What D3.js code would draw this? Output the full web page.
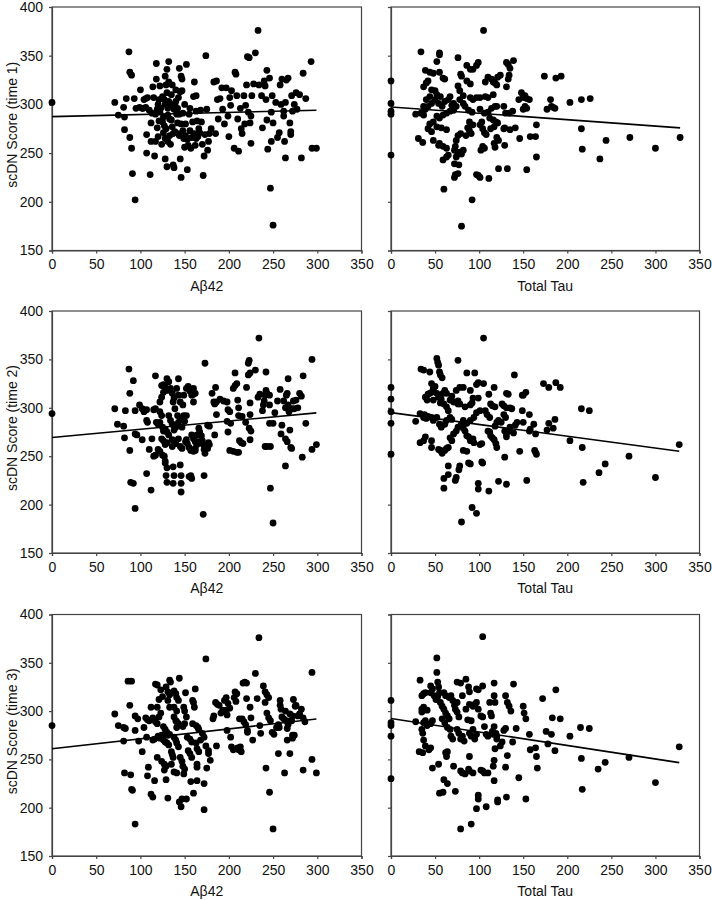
<!DOCTYPE html>
<html><head><meta charset="utf-8">
<script src="https://cdn.jsdelivr.net/npm/d3@7"></script>
<style>body{margin:0;background:#fff}svg{display:block}</style>
</head><body>
<script>
const xTicks=[0,50,100,150,200,250,300,350];
const yTicks=[150,200,250,300,350,400];
const xTitles=["Aβ42","Total Tau"];
const yTitles=["scDN Score (time 1)","scDN Score (time 2)","scDN Score (time 3)"];

const abetaT1=[[0,302],[71,302],[75,289],[81,297],[84,306],[82,287],[82,274],[87,354],[88,333],[90,330],[88,266],[90,255],[91,229],[94,202],[93,306],[95,296],[100,315],[99,297],[103,296],[106,306],[108,307],[107,269],[107,250],[111,228],[112,262],[112,281],[113,291],[114,318],[115,307],[116,247],[117,262],[118,342],[118,326],[119,295],[120,267],[121,305],[122,319],[122,292],[124,259],[125,308],[126,287],[127,278],[128,329],[128,300],[128,244],[129,275],[130,336],[130,312],[130,236],[131,289],[132,344],[132,323],[132,303],[133,268],[134,259],[135,284],[135,310],[136,320],[137,238],[138,235],[138,295],[139,272],[140,303],[141,290],[142,281],[143,307],[144,337],[144,268],[145,244],[145,313],[146,329],[146,225],[147,326],[147,314],[148,291],[148,273],[150,300],[150,256],[151,280],[152,341],[153,264],[153,233],[155,290],[156,273],[157,255],[158,266],[160,308],[161,323],[162,258],[163,293],[164,283],[165,267],[166,275],[168,294],[170,259],[172,247],[171,227],[173,269],[174,350],[175,295],[176,253],[178,270],[180,275],[120,300],[123,296],[125,282],[127,305],[129,320],[131,296],[133,285],[134,300],[136,277],[137,270],[139,300],[140,315],[142,296],[143,270],[144,290],[146,280],[149,265],[151,268],[154,258],[156,296],[159,282],[161,270],[163,265],[167,271],[169,282],[110,294],[104,305],[117,290],[119,276],[121,283],[126,271],[128,265],[131,262],[102,296],[106,297],[177,262],[163,309],
[183,323],[186,324],[185,270],[187,305],[188,285],[190,306],[192,317],[193,295],[195,280],[197,317],[199,288],[200,267],[201,307],[202,299],[203,314],[206,255],[207,333],[208,331],[209,309],[210,285],[211,252],[213,296],[214,275],[215,270],[217,309],[218,280],[219,299],[220,320],[221,349],[223,348],[222,292],[224,281],[225,288],[225,260],[226,309],[228,321],[230,353],[233,376],[234,320],[237,309],[238,276],[240,324],[241,319],[242,305],[243,284],[243,335],[244,254],[246,327],[247,214],[248,262],[248,292],[249,309],[250,281],[250,176],
[253,302],[255,266],[257,271],[258,320],[259,300],[260,326],[262,293],[262,288],[263,262],[264,245],[264,302],[265,325],[267,327],[269,281],[270,272],[270,269],[271,309],[272,293],[274,300],[276,312],[277,295],[280,310],[282,245],[284,332],[287,306],[293,344],[294,255],[299,255]];

const tauT1=[[0,324],[0,301],[0,293],[0,290],[0,248],[28,290],[34,354],[31,265],[36,261],[37,318],[40,322],[42,324],[39,335],[44,333],[48,332],[52,344],[55,353],[55,351],[55,333],[59,327],[61,326],[76,348],[46,315],[50,314],[52,310],[56,308],[44,308],[40,305],[37,298],[39,295],[34,291],[37,289],[42,298],[46,301],[50,305],[54,301],[58,298],[61,303],[65,305],[67,308],[69,299],[71,301],[52,288],[55,286],[59,289],[63,291],[67,293],[71,294],[48,282],[44,280],[42,275],[52,277],[57,276],[63,274],[46,272],[48,263],[55,260],[54,258],[59,257],[63,255],[65,248],[59,243],[63,246],[72,239],[74,246],[76,250],[76,229],[73,228],[72,225],[60,213],[78,251],[80,249],[82,253],[86,340],[90,336],[93,336],[97,340],[105,376],[99,343],[86,324],[90,321],[79,331],[80,329],[76,319],[78,314],[82,309],[90,307],[93,305],[97,307],[101,307],[107,308],[110,307],[78,305],[82,301],[74,298],[84,298],[88,294],[92,292],[101,295],[106,291],[110,292],[112,286],[118,298],[114,296],[120,298],[107,323],[110,328],[114,326],[116,323],[120,320],[118,322],[116,310],[121,328],[124,330],[131,318],[133,326],[134,330],[135,337],[139,345],[131,343],[133,341],[128,298],[130,291],[134,291],[138,293],[116,284],[119,282],[121,281],[117,277],[113,275],[103,282],[101,279],[104,275],[106,271],[108,269],[89,282],[93,279],[87,276],[89,273],[91,270],[85,268],[79,270],[76,268],[74,263],[73,257],[72,253],[76,249],[104,257],[102,253],[106,255],[120,266],[122,263],[117,260],[118,256],[128,275],[129,276],[135,274],[129,258],[132,234],[122,234],[111,224],[99,227],[101,225],[97,228],[92,202],[80,175],[77,238],[145,305],[150,307],[148,312],[152,309],[154,306],[157,305],[150,295],[154,296],[152,298],[165,279],[158,267],[164,267],[146,265],[141,276],[165,246],[154,233],[174,329],[177,295],[182,298],[181,305],[184,297],[186,296],[187,327],[193,329],[203,302],[216,305],[226,306],[216,275],[217,254],[244,263],[237,244],[271,266],[300,255],[328,266]];

const abetaT2=[[0,294],[71,299],[74,283],[81,281],[82,269],[83,297],[88,315],[87,340],[92,328],[88,256],[89,223],[92,222],[94,196],[94,297],[94,273],[96,272],[99,303],[102,299],[102,267],[104,296],[107,298],[107,287],[108,285],[110,257],[107,232],[112,215],[113,268],[115,250],[117,251],[115,298],[117,299],[117,333],[118,285],[120,283],[122,255],[120,257],[122,296],[124,292],[122,306],[124,311],[126,316],[124,323],[126,324],[128,321],[130,318],[122,285],[125,280],[128,278],[130,275],[126,276],[124,268],[126,266],[128,262],[130,264],[125,251],[127,250],[128,245],[128,243],[130,238],[129,230],[130,223],[130,330],[132,327],[134,320],[136,315],[138,310],[137,306],[139,299],[132,292],[134,287],[136,283],[138,282],[140,280],[138,277],[132,272],[136,267],[138,266],[140,263],[136,260],[137,239],[138,230],[137,222],[141,320],[143,313],[145,306],[143,330],[142,292],[145,289],[143,285],[147,280],[143,268],[145,260],[147,258],[145,241],[146,230],[146,222],[146,213],[148,303],[149,313],[152,320],[149,292],[150,286],[152,292],[151,265],[153,263],[152,267],[155,259],[157,256],[155,229],[157,230],[154,322],[156,317],[158,313],[160,314],[160,306],[158,272],[160,268],[162,265],[164,262],[162,258],[160,320],[162,315],[158,227],[160,255],[162,256],[164,272],[165,265],[166,279],[167,275],[169,271],[170,266],[171,262],[172,257],[173,253],[172,230],[171,190],[173,346],[176,282],[178,281],[178,262],[177,264],[176,258],[181,315],[183,306],[184,304],[186,306],[185,321],[186,293],[184,272],[190,309],[194,307],[198,306],[199,298],[201,296],[198,286],[202,284],[199,275],[201,256],[205,255],[209,254],[211,254],[205,320],[207,323],[207,336],[209,325],[210,308],[211,300],[211,292],[215,291],[219,285],[212,266],[214,264],[216,263],[220,321],[222,334],[224,336],[222,346],[223,349],[224,305],[224,293],[223,279],[225,276],[224,267],[230,339],[233,311],[235,314],[234,372],[238,297],[239,303],[240,307],[241,313],[242,318],[243,315],[241,260],[243,260],[247,260],[242,337],[246,313],[246,303],[246,284],[247,217],[250,181],[250,284],[252,295],[255,307],[258,319],[259,273],[260,282],[262,307],[264,300],[265,313],[266,315],[267,303],[268,296],[264,240],[264,268],[266,265],[267,330],[269,277],[270,259],[271,258],[271,299],[273,307],[274,299],[276,308],[278,300],[280,315],[282,312],[283,249],[284,333],[287,284],[294,257],[294,350],[299,262]];

const tauT2=[[0,321],[0,309],[0,296],[0,284],[0,252],[28,286],[34,340],[37,339],[44,337],[52,351],[53,347],[54,344],[55,337],[56,334],[76,349],[58,331],[46,325],[48,320],[50,322],[61,318],[63,315],[59,315],[39,311],[41,308],[42,314],[44,315],[46,316],[48,308],[52,315],[54,311],[57,309],[56,305],[60,304],[63,301],[65,297],[67,308],[71,306],[69,312],[74,318],[76,304],[33,294],[37,290],[38,293],[40,289],[42,291],[46,290],[48,287],[52,290],[55,283],[57,280],[61,283],[63,287],[67,290],[69,288],[39,270],[37,266],[33,264],[46,266],[46,259],[56,256],[58,253],[54,257],[61,256],[63,258],[65,259],[67,269],[69,266],[71,273],[74,276],[76,280],[79,281],[82,279],[84,276],[86,271],[88,270],[90,266],[93,268],[94,264],[82,256],[86,255],[88,243],[90,242],[65,240],[65,231],[60,227],[60,217],[73,225],[74,228],[78,240],[77,236],[80,283],[82,287],[86,284],[90,287],[94,290],[97,295],[101,297],[78,321],[82,321],[86,336],[90,318],[92,305],[95,336],[97,324],[99,326],[76,307],[78,304],[84,301],[90,303],[93,310],[99,310],[105,372],[105,325],[107,297],[109,293],[112,290],[111,314],[113,304],[115,302],[118,301],[117,321],[110,276],[112,275],[113,271],[115,269],[117,267],[119,263],[120,259],[118,281],[103,263],[101,262],[103,244],[104,243],[99,222],[99,216],[111,214],[122,224],[131,221],[92,197],[97,191],[80,182],[122,287],[125,285],[128,293],[130,290],[131,315],[133,314],[126,304],[128,302],[131,300],[135,300],[137,299],[129,276],[131,273],[131,270],[133,276],[120,285],[129,249],[140,334],[135,280],[141,282],[143,285],[139,274],[146,255],[149,313],[150,313],[153,316],[149,297],[150,285],[157,293],[158,278],[162,283],[157,276],[154,225],[163,256],[165,252],[164,254],[164,273],[173,325],[179,321],[177,277],[179,284],[184,279],[186,288],[187,326],[192,321],[203,266],[216,299],[225,297],[217,259],[218,223],[236,233],[243,242],[270,250],[300,228],[327,262]];

const abetaT3=[[0,285],[71,297],[75,285],[81,283],[83,282],[81,269],[82,236],[86,331],[90,331],[88,306],[89,234],[90,219],[91,218],[94,183],[94,295],[94,280],[97,292],[98,269],[102,258],[104,283],[106,293],[108,291],[110,290],[107,273],[108,233],[109,242],[112,214],[114,211],[112,304],[114,293],[114,270],[116,271],[116,228],[117,328],[119,327],[119,304],[121,312],[123,322],[125,315],[117,289],[119,287],[121,294],[123,298],[120,274],[122,272],[124,275],[119,252],[124,248],[127,245],[129,243],[127,239],[129,229],[131,210],[129,325],[131,320],[133,317],[131,311],[133,304],[126,284],[128,281],[130,278],[131,275],[133,276],[126,270],[128,268],[130,267],[132,265],[133,332],[134,330],[135,258],[136,255],[137,252],[135,245],[138,321],[140,318],[141,314],[143,311],[138,304],[141,300],[138,294],[140,290],[141,289],[143,287],[141,283],[138,273],[140,270],[141,267],[143,263],[138,237],[141,236],[144,334],[144,206],[146,201],[147,209],[152,209],[145,252],[147,248],[148,243],[150,240],[149,235],[149,304],[150,300],[152,294],[148,284],[150,287],[151,319],[153,273],[156,271],[158,268],[154,259],[156,256],[158,252],[157,227],[160,215],[159,311],[160,309],[161,304],[159,287],[163,285],[165,283],[166,281],[162,323],[163,267],[164,261],[166,258],[164,245],[164,242],[164,228],[168,270],[170,277],[172,273],[174,264],[172,225],[172,198],[174,354],[175,241],[177,256],[177,259],[179,249],[182,292],[183,295],[185,309],[187,307],[189,306],[191,298],[186,264],[193,301],[197,301],[195,311],[197,314],[199,308],[198,296],[201,303],[198,280],[202,273],[203,263],[205,260],[206,314],[208,310],[207,320],[209,318],[210,262],[211,260],[213,263],[214,258],[212,292],[215,292],[217,289],[219,286],[221,280],[216,329],[218,330],[220,329],[220,313],[221,278],[224,304],[225,293],[227,270],[230,339],[232,313],[234,376],[235,285],[236,277],[239,326],[241,320],[243,317],[245,314],[241,309],[243,298],[245,293],[247,290],[242,241],[246,216],[249,278],[251,276],[250,178],[254,283],[256,286],[257,283],[258,311],[258,306],[259,302],[256,256],[260,294],[262,292],[263,236],[264,300],[265,290],[266,282],[267,286],[266,270],[269,297],[271,290],[272,295],[269,256],[272,275],[274,275],[272,272],[273,312],[275,305],[276,306],[278,295],[280,297],[282,302],[284,293],[284,239],[294,340],[294,250],[299,236],[286,289]];

const tauT3=[[0,311],[0,288],[0,285],[0,274],[0,230],[28,289],[32,258],[36,257],[33,332],[35,316],[37,318],[39,319],[35,302],[35,299],[37,304],[41,301],[35,281],[36,277],[37,270],[39,264],[43,260],[45,262],[37,288],[39,290],[41,285],[45,287],[47,290],[45,326],[47,323],[45,319],[49,316],[51,312],[53,315],[55,319],[52,355],[52,340],[53,330],[54,325],[47,241],[54,245],[55,215],[59,216],[60,229],[64,225],[62,257],[63,253],[64,258],[56,309],[58,305],[60,302],[62,298],[64,295],[66,292],[58,292],[61,288],[64,283],[67,281],[68,274],[70,271],[60,319],[62,316],[66,314],[68,316],[70,311],[72,306],[73,302],[75,299],[77,294],[75,309],[71,243],[73,217],[75,281],[77,277],[79,271],[81,274],[83,269],[75,330],[79,329],[81,316],[85,333],[88,325],[89,320],[79,238],[81,236],[84,235],[88,240],[89,238],[93,236],[79,178],[91,183],[89,253],[85,302],[89,307],[93,305],[95,307],[97,309],[99,302],[87,291],[91,290],[93,281],[97,276],[89,277],[91,274],[95,271],[97,323],[99,322],[97,199],[99,213],[99,209],[104,377],[104,326],[102,295],[104,294],[106,284],[108,276],[110,274],[102,239],[104,238],[106,236],[110,236],[112,309],[113,298],[114,295],[115,279],[116,276],[108,201],[117,329],[117,316],[118,309],[117,284],[119,277],[120,274],[120,271],[118,261],[117,249],[116,243],[117,228],[121,208],[121,206],[124,264],[126,268],[128,280],[130,282],[130,316],[132,309],[134,305],[136,300],[132,254],[130,242],[131,211],[139,328],[138,268],[142,282],[145,231],[150,305],[151,298],[153,292],[153,209],[157,276],[158,260],[164,262],[165,253],[166,241],[172,313],[176,279],[178,266],[182,276],[183,293],[186,259],[192,292],[187,322],[203,274],[215,283],[216,251],[217,219],[225,282],[235,240],[243,247],[270,252],[300,226],[327,263]];

const fitIntercepts=[287.4,297.4,269.3,295,261,292.4];
const fitSlopes=[0.022,-0.0655,0.085,-0.122,0.103,-0.140];

const panels=[abetaT1,tauT1,abetaT2,tauT2,abetaT3,tauT3];

const W=712,H=900;
const svg=d3.select("body").append("svg").attr("width",W).attr("height",H);
const colX=[[52,361.5],[391,699.5]];
const rowY=[[250.5,7],[553,311],[856,614.5]];
const font="'Liberation Sans', Arial, sans-serif";

panels.forEach((data,i)=>{
  const r=Math.floor(i/2), c=i%2;
  const x=d3.scaleLinear().domain([0,350]).range(colX[c]);
  const y=d3.scaleLinear().domain([150,400]).range(rowY[r]);
  const g=svg.append("g");
  g.append("rect").attr("x",colX[c][0]).attr("y",rowY[r][1])
    .attr("width",colX[c][1]-colX[c][0]).attr("height",rowY[r][0]-rowY[r][1])
    .attr("fill","none").attr("stroke","#444").attr("stroke-width",1.2);
  const xa=g.append("g").attr("transform",`translate(0,${rowY[r][0]})`)
    .call(d3.axisBottom(x).tickValues(xTicks).tickSize(3).tickPadding(6).tickFormat(d3.format("d")));
  const ya=g.append("g").attr("transform",`translate(${colX[c][0]},0)`)
    .call(d3.axisLeft(y).tickValues(yTicks).tickSize(3).tickPadding(6).tickFormat(c===0?d3.format("d"):()=>""));
  [xa,ya].forEach(a=>{
    a.select(".domain").attr("stroke","#444").attr("stroke-width",1.2);
    a.selectAll(".tick line").attr("stroke","#444").attr("stroke-width",1.2);
    a.selectAll("text").attr("font-family",font).attr("font-size",14).attr("fill","#111");
  });
  g.append("text").attr("x",(colX[c][0]+colX[c][1])/2).attr("y",rowY[r][0]+40)
    .attr("text-anchor","middle").attr("font-family",font).attr("font-size",14).attr("fill","#111")
    .text(xTitles[c]);
  if(c===0){
    const cy=(rowY[r][0]+rowY[r][1])/2-4;
    g.append("text").attr("transform",`translate(17,${cy}) rotate(-90)`)
      .attr("text-anchor","middle").attr("font-family",font).attr("font-size",14).attr("fill","#111")
      .text(yTitles[r]);
  }
  g.append("g").selectAll("circle").data(data).join("circle")
    .attr("cx",d=>x(d[0])).attr("cy",d=>y(d[1])).attr("r",3.4).attr("fill","#000");
  const xmax=d3.max(data,d=>d[0]);
  const fx=[0,xmax];
  g.append("line")
    .attr("x1",x(fx[0])).attr("y1",y(fitIntercepts[i]+fitSlopes[i]*fx[0]))
    .attr("x2",x(fx[1])).attr("y2",y(fitIntercepts[i]+fitSlopes[i]*fx[1]))
    .attr("stroke","#000").attr("stroke-width",1.6);
});
</script>
</body></html>
